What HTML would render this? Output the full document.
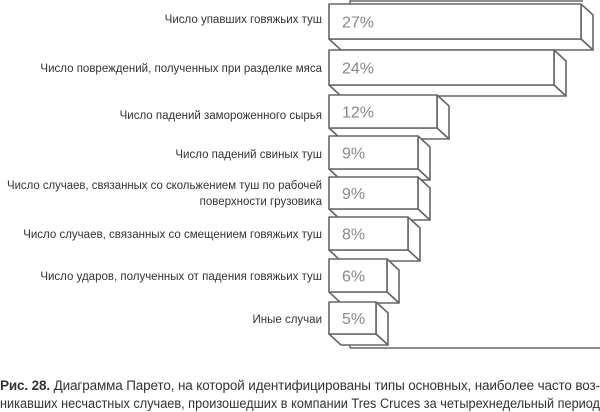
<!DOCTYPE html>
<html><head><meta charset="utf-8"><style>
html,body{margin:0;padding:0;background:#fff;}
svg{display:block;}
</style></head><body>
<svg width="600" height="412" viewBox="0 0 600 412" xmlns="http://www.w3.org/2000/svg" font-family="Liberation Sans, sans-serif">
<g fill="none" stroke="#666" stroke-width="1.5">
<polyline points="350,348 350,1 583,1"/>
<line x1="350" y1="348" x2="600" y2="348"/>
</g>
<g stroke="#666" stroke-width="1.6" fill="#fff" stroke-linejoin="round">
<polygon points="581,4 593,15 593,50 581,39"/><polygon points="329,39 581,39 593,50 341,50"/><rect x="329" y="4" width="252" height="35"/>
<polygon points="554,50 566,61 566,96 554,85"/><polygon points="329,85 554,85 566,96 341,96"/><rect x="329" y="50" width="225" height="35"/>
<polygon points="437,95 449,106 449,139 437,128"/><polygon points="329,128 437,128 449,139 341,139"/><rect x="329" y="95" width="108" height="33"/>
<polygon points="418,136 430,147 430,180 418,169"/><polygon points="329,169 418,169 430,180 341,180"/><rect x="329" y="136" width="89" height="33"/>
<polygon points="418,177 430,188 430,220 418,209"/><polygon points="329,209 418,209 430,220 341,220"/><rect x="329" y="177" width="89" height="32"/>
<polygon points="408,217 420,228 420,261 408,250"/><polygon points="329,250 408,250 420,261 341,261"/><rect x="329" y="217" width="79" height="33"/>
<polygon points="387,259 399,270 399,303 387,292"/><polygon points="329,292 387,292 399,303 341,303"/><rect x="329" y="259" width="58" height="33"/>
<polygon points="376,302 388,313 388,345 376,334"/><polygon points="329,334 376,334 388,345 341,345"/><rect x="329" y="302" width="47" height="32"/>
</g>
<g font-size="16" fill="#888">
<text x="342" y="27.5">27%</text>
<text x="342" y="73.5">24%</text>
<text x="342" y="117.5">12%</text>
<text x="342" y="158.5">9%</text>
<text x="342" y="199">9%</text>
<text x="342" y="239.5">8%</text>
<text x="342" y="281.5">6%</text>
<text x="342" y="324">5%</text>
</g>
<g font-size="11.5" fill="#333" text-anchor="end">
<text x="322" y="23">Число упавших говяжьих туш</text>
<text x="322" y="72">Число повреждений, полученных при разделке мяса</text>
<text x="322" y="119">Число падений замороженного сырья</text>
<text x="322" y="158">Число падений свиных туш</text>
<text x="322" y="189" textLength="315" lengthAdjust="spacingAndGlyphs">Число случаев, связанных со скольжением туш по рабочей</text>
<text x="322" y="205">поверхности грузовика</text>
<text x="322" y="238">Число случаев, связанных со смещением говяжьих туш</text>
<text x="322" y="280">Число ударов, полученных от падения говяжьих туш</text>
<text x="322" y="323">Иные случаи</text>
</g>
<g font-size="13.5" fill="#333">
<text x="0" y="390" textLength="600" lengthAdjust="spacing"><tspan font-weight="bold">Рис. 28.</tspan> Диаграмма Парето, на которой идентифицированы типы основных, наиболее часто воз-</text>
<text x="0" y="408" textLength="600" lengthAdjust="spacingAndGlyphs">никавших несчастных случаев, произошедших в компании Tres Cruces за четырехнедельный период</text>
</g>
</svg>
</body></html>
